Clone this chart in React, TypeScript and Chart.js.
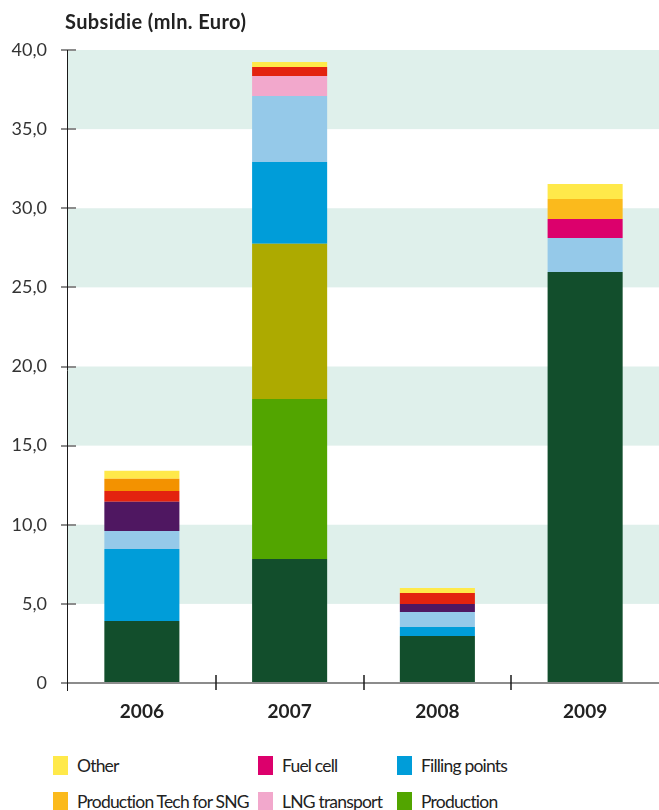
import React, { useEffect, useRef } from 'react';
import { Chart, registerables } from 'chart.js';

Chart.register(...registerables);

const categories = ['2006', '2007', '2008', '2009'];
const yTickLabels = ['0', '5,0', '10,0', '15,0', '20,0', '25,0', '30,0', '35,0', '40,0'];
const bandRanges: [number, number][] = [[5, 10], [15, 20], [25, 30], [35, 40]];
const titleText = 'Subsidie (mln. Euro)';

// Series values (bottom of stack first)
const darkGreenValues = [3.92, 7.84, 2.97, 25.97];
const productionValues = [0, 10.11, 0, 0];
const oliveValues = [0, 9.81, 0, 0];
const fillingPointsValues = [4.55, 5.16, 0.57, 0];
const lightBlueValues = [1.14, 4.18, 0.95, 2.15];
const purpleValues = [1.84, 0, 0.5, 0];
const lngTransportValues = [0, 1.26, 0, 0];
const fuelCellValues = [0, 0, 0, 1.2];
const redValues = [0.69, 0.57, 0.7, 0];
const orangeValues = [0.76, 0, 0, 0];
const sngValues = [0, 0, 0, 1.26];
const otherValues = [0.51, 0.31, 0.31, 0.95];

const series = [
  { label: 'Series A', color: '#124E2C', data: darkGreenValues },
  { label: 'Production', color: '#52A500', data: productionValues },
  { label: 'Series B', color: '#ADAA00', data: oliveValues },
  { label: 'Filling points', color: '#009DD9', data: fillingPointsValues },
  { label: 'Series C', color: '#95C9E9', data: lightBlueValues },
  { label: 'Series D', color: '#4F1761', data: purpleValues },
  { label: 'LNG transport', color: '#F2A8CC', data: lngTransportValues },
  { label: 'Fuel cell', color: '#DC006C', data: fuelCellValues },
  { label: 'Series E', color: '#E3230F', data: redValues },
  { label: 'Series F', color: '#F39200', data: orangeValues },
  { label: 'Production Tech for SNG', color: '#FBBA1C', data: sngValues },
  { label: 'Other', color: '#FFE94A', data: otherValues },
];

const legendOrder = ['Other', 'Fuel cell', 'Filling points', 'Production Tech for SNG', 'LNG transport', 'Production'];

const FONT = 'Lato, "Open Sans", sans-serif';

const bandPlugin = {
  id: 'bands',
  beforeDatasetsDraw(chart: any) {
    const { ctx, chartArea, scales } = chart;
    const y = scales.y;
    ctx.save();
    ctx.fillStyle = '#DFF0EB';
    for (const [a, b] of bandRanges) {
      const top = y.getPixelForValue(b);
      const bot = y.getPixelForValue(a);
      ctx.fillRect(chartArea.left, top, chartArea.right - chartArea.left, bot - top);
    }
    ctx.restore();
  },
};

const decorPlugin = {
  id: 'decor',
  afterDatasetsDraw(chart: any) {
    const { ctx, chartArea: ca, scales } = chart;
    const x = scales.x;
    const y = scales.y;
    const line = (x1: number, y1: number, x2: number, y2: number) => {
      ctx.beginPath();
      ctx.moveTo(x1, y1);
      ctx.lineTo(x2, y2);
      ctx.stroke();
    };
    ctx.save();
    ctx.strokeStyle = '#8c8c8c';
    ctx.lineWidth = 2;
    y.ticks.forEach((_t: any, i: number) => {
      const py = Math.round(y.getPixelForTick(i));
      line(ca.left - 7, py, ca.left + 8, py);
    });
    line(ca.left - 7, Math.round(ca.bottom), ca.right, Math.round(ca.bottom));
    ctx.strokeStyle = '#1a1a1a';
    ctx.lineWidth = 1;
    line(ca.left - 0.5, ca.top, ca.left - 0.5, ca.bottom + 8);
    ctx.lineWidth = 1.5;
    for (let i = 1; i < categories.length; i++) {
      const px = Math.round((x.getPixelForValue(i - 1) + x.getPixelForValue(i)) / 2);
      line(px, ca.bottom - 8, px, ca.bottom + 7);
    }
    // title
    ctx.fillStyle = '#222';
    ctx.font = `bold 20px ${FONT}`;
    try { (ctx as any).letterSpacing = '0.4px'; } catch (e) {}
    ctx.textAlign = 'left';
    ctx.textBaseline = 'alphabetic';
    ctx.fillText(titleText, ca.left - 3, 29);
    ctx.restore();
  },
};

export default function App() {
  const canvasRef = useRef<HTMLCanvasElement | null>(null);

  useEffect(() => {
    document.body.style.margin = '0';
    const canvas = canvasRef.current;
    if (!canvas) return;
    const chart = new Chart(canvas, {
      type: 'bar',
      data: {
        labels: categories,
        datasets: series.map((s) => ({
          label: s.label,
          data: s.data,
          backgroundColor: s.color,
          borderWidth: 0,
          categoryPercentage: 1,
          barPercentage: 0.508,
        })),
      },
      options: {
        animation: false,
        responsive: true,
        maintainAspectRatio: false,
        layout: { padding: { top: 50, left: 0, right: 0, bottom: 0 } },
        plugins: {
          legend: { display: false },
          title: { display: false },
          tooltip: { enabled: false },
        },
        scales: {
          x: {
            stacked: true,
            grid: { display: false, drawTicks: false },
            border: { display: false },
            ticks: {
              font: { family: FONT, size: 19, weight: 'bold' },
              color: '#222',
              padding: 17,
            },
            afterFit: (s: any) => {
              s.height = 57;
            },
          },
          y: {
            stacked: true,
            min: 0,
            max: 40,
            grid: { display: false, drawTicks: false },
            border: { display: false },
            ticks: {
              stepSize: 5,
              font: { family: FONT, size: 18 },
              color: '#333',
              padding: 21,
              callback: (_v: any, i: number) => yTickLabels[i],
            },
            afterFit: (s: any) => {
              s.width = 68;
            },
          },
        },
      },
      plugins: [bandPlugin, decorPlugin],
    });
    return () => chart.destroy();
  }, []);

  const legendItems = legendOrder.map((name) => series.find((s) => s.label === name)!);
  const colLefts = [53, 258, 397];

  return (
    <div style={{ position: 'relative', width: 659, height: 810, overflow: 'hidden', fontFamily: FONT }}>
      <div style={{ position: 'absolute', left: 0, top: 0, width: 659, height: 740 }}>
        <canvas ref={canvasRef} />
      </div>
      {legendItems.map((it, i) => {
        const col = i % 3;
        const row = Math.floor(i / 3);
        return (
          <div
            key={it.label}
            style={{
              position: 'absolute',
              left: colLefts[col],
              top: 752 + row * 36,
              height: 26,
              display: 'flex',
              alignItems: 'center',
              whiteSpace: 'nowrap',
            }}
          >
            <span style={{ display: 'inline-block', width: 15, height: 19, background: it.color, marginRight: 9 }} />
            <span style={{ fontSize: 17.5, letterSpacing: '-0.8px', color: '#222' }}>{it.label}</span>
          </div>
        );
      })}
    </div>
  );
}
